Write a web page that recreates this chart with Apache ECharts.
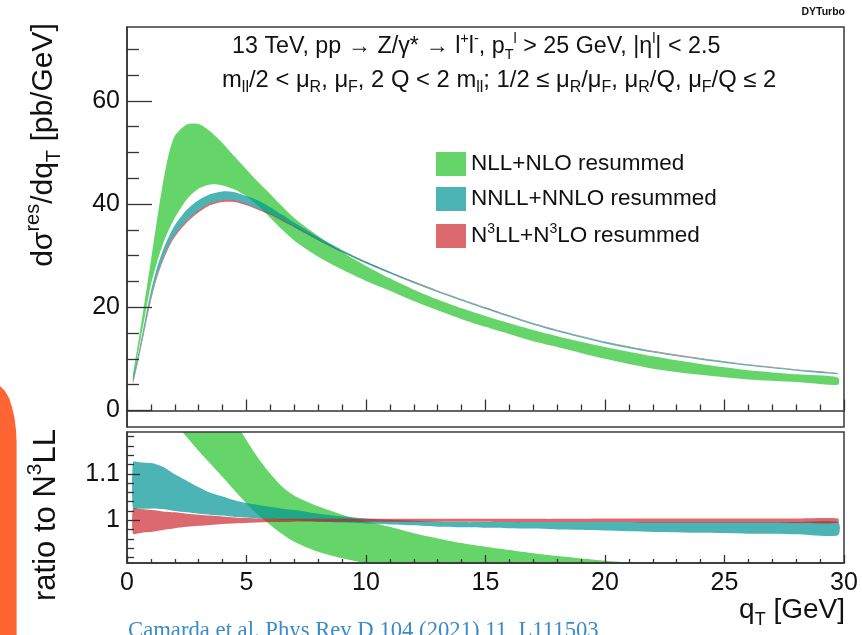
<!DOCTYPE html>
<html><head><meta charset="utf-8">
<script src="https://cdn.jsdelivr.net/npm/echarts@6/dist/echarts.min.js"></script>
<style>html,body{margin:0;padding:0;background:#fff}#c{width:862px;height:635px}</style>
</head><body><div id="c"></div>
<script>
// ---- data ----
const qT = [0.25,0.5,0.75,1,1.25,1.5,1.75,2,2.5,3,3.5,4,4.5,5,5.5,6,6.5,7,8,9,10,11,12,13,14,15,16,17,18,20,22,24,26,28,29.75];

// upper panel: d sigma / dqT [pb/GeV]
const nllLo  = [5.9,12.1,18.3,24.3,28.6,32.2,35.0,37.3,40.9,43.0,43.8,43.6,42.8,41.5,39.6,37.3,35.0,32.9,29.8,27.3,25.1,23.2,21.2,19.4,17.7,16.2,14.8,13.4,12.3,10.0,8.1,6.9,6.0,5.5,5.0];
const nllHi  = [7.0,14.0,21.5,29.0,36.8,44.0,49.7,53.2,55.4,55.5,54.0,51.8,49.2,46.7,44.2,41.9,39.5,37.3,33.8,30.7,28.0,25.6,23.4,21.5,19.8,18.3,16.9,15.6,14.4,12.3,10.5,9.0,7.8,7.0,6.4];
const nnllLo = [5.45,10.65,16.25,21.65,26.05,29.35,32.05,34.05,36.8,38.8,40.15,40.75,40.75,40.05,39.1,38.1,36.9,35.6,33.0,30.65,28.5,26.55,24.65,22.9,21.25,19.65,18.1,16.6,15.3,13.0,11.22,9.84,8.65,7.71,7.02];
const nnllHi = [6.3,11.6,17.5,23.1,27.6,31.0,33.7,35.9,38.9,40.8,41.95,42.45,42.3,41.55,40.65,39.4,37.9,36.4,33.6,31.1,28.85,26.85,24.95,23.15,21.5,19.9,18.35,16.85,15.55,13.25,11.45,10.05,8.85,7.9,7.2];
const n3llLo = [5.1,10.2,15.8,21.2,25.6,28.9,31.6,33.6,36.4,38.4,39.8,40.4,40.4,39.75,38.85,37.9,36.7,35.5,33.0,30.7,28.6,26.72,24.87,23.13,21.48,19.88,18.34,16.84,15.54,13.25,11.45,10.05,8.85,7.91,7.21];
const n3llHi = [5.5,10.7,16.3,21.7,26.1,29.4,32.1,34.1,36.85,38.85,40.2,40.8,40.8,40.1,39.15,38.15,36.95,35.72,33.2,30.9,28.8,26.88,25.03,23.27,21.62,20.02,18.46,16.96,15.66,13.36,11.56,10.15,8.94,7.99,7.28];

// lower panel: ratio to N3LL
const nllRLo  = [1.30,1.28,1.27,1.26,1.25,1.24,1.225,1.21,1.179,1.149,1.121,1.093,1.064,1.036,1.011,0.990,0.970,0.954,0.932,0.918,0.907,0.897,0.888,0.880,0.872,0.864,0.857,0.850,0.843,0.830,0.820,0.810,0.800,0.790,0.785];
const nllRHi  = [1.35,1.36,1.37,1.38,1.42,1.51,1.56,1.57,1.51,1.44,1.35,1.28,1.215,1.172,1.133,1.100,1.072,1.053,1.030,1.012,0.998,0.986,0.972,0.961,0.951,0.943,0.936,0.929,0.923,0.913,0.905,0.895,0.887,0.880,0.875];
const nnllRLo = [1.025,1.025,1.025,1.025,1.025,1.024,1.022,1.020,1.017,1.014,1.012,1.010,1.007,1.006,1.004,1.003,1.001,1.000,0.997,0.995,0.993,0.991,0.989,0.986,0.985,0.984,0.983,0.982,0.980,0.978,0.975,0.973,0.971,0.970,0.968];
const nnllRHi = [1.125,1.125,1.124,1.123,1.120,1.115,1.107,1.099,1.085,1.071,1.059,1.051,1.043,1.037,1.033,1.029,1.025,1.022,1.014,1.008,1.004,1.001,0.999,0.997,0.996,0.996,0.996,0.996,0.996,0.996,0.996,0.996,0.996,0.996,0.996];
const n3llRLo = [0.971,0.972,0.974,0.975,0.977,0.979,0.981,0.983,0.986,0.988,0.990,0.992,0.993,0.994,0.995,0.996,0.996,0.997,0.997,0.997,0.997,0.997,0.997,0.997,0.997,0.997,0.996,0.996,0.996,0.996,0.995,0.995,0.995,0.994,0.994];
const n3llRHi = [1.025,1.024,1.023,1.022,1.021,1.019,1.018,1.017,1.014,1.012,1.010,1.008,1.006,1.005,1.004,1.004,1.003,1.003,1.003,1.003,1.003,1.003,1.003,1.003,1.003,1.003,1.003,1.003,1.003,1.004,1.004,1.004,1.004,1.004,1.004];

// tick labels / tick positions
const xTicks = [0,5,10,15,20,25,30];
const yMajor = [0,20,40,60];
const yMinor = [5,10,15,25,30,35,45,50,55,65,70];
const rMajor = [1,1.1];
const rMinor = [0.92,0.94,0.96,0.98,1.02,1.04,1.06,1.08,1.12,1.14,1.16,1.18];

const names = ['NLL+NLO resummed','NNLL+NNLO resummed','N3LL+N3LO resummed'];
const colors = ['rgba(0,185,5,0.6)','rgba(0,148,148,0.7)','rgba(201,24,32,0.65)'];

// ---- chart ----
const FONT = 'Liberation Sans, Arial, Helvetica, sans-serif';
const chart = echarts.init(document.getElementById('c'));

// uncertainty band: one filled polygon (upper edge forward, lower edge back) in data coordinates
function band(name, lo, hi, color, idx, z) {
  return {
    type:'custom', name, xAxisIndex:idx, yAxisIndex:idx*2, z, silent:true,
    data: qT.map((q,i)=>[q, lo[i], hi[i]]),
    encode:{x:0, y:[1,2]},
    itemStyle:{color},
    renderItem:(params, api)=>{
      if (params.dataIndex !== 0) return null;
      const n = qT.length, up = [], dn = [];
      for (let i=0;i<n;i++) up.push(api.coord([qT[i], hi[i]]));
      for (let i=n-1;i>=0;i--) dn.push(api.coord([qT[i], lo[i]]));
      const cs = params.coordSys;
      return {
        type:'group',
        clipPath:{type:'rect', shape:{x:cs.x, y:cs.y, width:cs.width, height:cs.height}},
        children:[{type:'polygon', shape:{points:up.concat(dn), smooth:0.25}, style:{fill:color, stroke:null}}]
      };
    }
  };
}

const series = [
  band(names[0], nllLo, nllHi, colors[0], 0, 2),
  band(names[2], n3llLo, n3llHi, colors[2], 0, 3),
  band(names[1], nnllLo, nnllHi, colors[1], 0, 4),
  band(names[0], nllRLo, nllRHi, colors[0], 1, 2),
  band(names[1], nnllRLo, nnllRHi, colors[1], 1, 3),
  band(names[2], n3llRLo, n3llRHi, colors[2], 1, 4)
];

const axisCol = '#333';
function xAx(grid, showLabel, tl, ml) {
  return {gridIndex:grid, type:'value', min:0, max:30, interval:5, z:10,
    axisLine:{show:true, lineStyle:{color:axisCol, width:1.5}},
    axisTick:{show:true, inside:true, length:tl, lineStyle:{color:axisCol, width:1.3}},
    minorTick:{show:true, splitNumber:5, length:ml, lineStyle:{color:axisCol, width:1.3}},
    axisLabel:{show:showLabel, fontSize:25, margin:8, color:'#111', fontFamily:FONT},
    splitLine:{show:false}, minorSplitLine:{show:false}};
}
function yAx(grid, min, max, ticks, len, labels) {
  return {gridIndex:grid, type:'value', min, max, position:'left', z:10,
    axisLine:{show:!!labels, lineStyle:{color:axisCol, width:1.5}},
    axisTick:{show:true, inside:true, length:len, customValues:ticks, lineStyle:{color:axisCol, width:1.3}},
    axisLabel:labels ? {show:true, customValues:labels, fontSize:25, margin:7, color:'#111', fontFamily:FONT} : {show:false},
    splitLine:{show:false}};
}

const sup = (fs)=>({fontSize:fs, fontFamily:FONT, lineHeight:fs, verticalAlign:'top', fill:'#111'});
const sub = (fs)=>({fontSize:fs, fontFamily:FONT, lineHeight:fs, verticalAlign:'bottom', fill:'#111'});
const main = (fs, lh)=>({fontSize:fs, fontFamily:FONT, lineHeight:lh, fill:'#111'});

const option = {
  animation:false,
  backgroundColor:'#fff',
  grid:[
    {left:127, top:27, right:18, height:400, show:true, borderColor:'#3a3a3a', borderWidth:1.5, z:10},
    {left:127, top:432, right:18, height:131, show:true, borderColor:'#3a3a3a', borderWidth:1.5, z:10}
  ],
  xAxis:[ xAx(0,false,11,6), xAx(1,true,8,4) ],
  yAxis:[
    yAx(0,-3.2,74.3,yMajor,25,yMajor),
    yAx(0,-3.2,74.3,yMinor,12,null),
    yAx(1,0.908,1.19,rMajor,13,rMajor),
    yAx(1,0.908,1.19,rMinor,7,null)
  ],
  legend:{
    data:names, orient:'vertical', left:436, top:152, itemWidth:30, itemHeight:24, itemGap:11,
    icon:'rect', padding:0, selectedMode:false,
    itemStyle:{borderWidth:0},
    formatter:(n)=> n.indexOf('N3')===0 ? '{n|N}{s|3}{n|LL+N}{s|3}{n|LO resummed}' : '{n|'+n+'}',
    textStyle:{color:'#111', fontFamily:FONT, fontSize:22.5,
      rich:{ n:{fontSize:22.5, fontFamily:FONT, color:'#111', lineHeight:28},
             s:{fontSize:14, fontFamily:FONT, color:'#111', lineHeight:14, verticalAlign:'top'} } }
  },
  graphic:[
    {type:'polygon', shape:{points:[[0,386],[5,391],[9,398],[12,407],[14.5,418],[16,430],[16.6,442],[16.6,635],[0,635]]}, style:{fill:'#ff6533'}},
    {type:'text', x:845, y:12, style:{text:'DYTurbo', fontSize:10.5, fontWeight:'bold', fontFamily:FONT, fill:'#111', align:'right', verticalAlign:'middle'}},
    {type:'text', x:232, y:47, style:{
      text:'{a|13 TeV, pp → Z/γ* → l}{sp|+}{a|l}{sp|-}{a|, p}{sb|T}{sp|l}{a| > 25 GeV, |η}{sp|l}{a|| < 2.5}',
      align:'left', verticalAlign:'middle',
      rich:{a:main(23.3,31), sp:sup(14.5), sb:sub(14.5)}}},
    {type:'text', x:222, y:80, style:{
      text:'{a|m}{sb|ll}{a|/2 < μ}{sb|R}{a|, μ}{sb|F}{a|, 2 Q < 2 m}{sb|ll}{a|; 1/2 ≤ μ}{sb|R}{a|/μ}{sb|F}{a|, μ}{sb|R}{a|/Q, μ}{sb|F}{a|/Q ≤ 2}',
      align:'left', verticalAlign:'middle',
      rich:{a:main(23.8,31), sp:sup(16), sb:sub(16)}}},
    {type:'text', x:44, y:145, rotation:Math.PI/2, style:{
      text:'{a|dσ}{sp|res}{a|/dq}{sb|T}{a| [pb/GeV]}', align:'center', verticalAlign:'middle',
      rich:{a:main(30,41), sp:sup(20), sb:sub(20)}}},
    {type:'text', x:46, y:515, rotation:Math.PI/2, style:{
      text:'{a|ratio to N}{sp|3}{a|LL}', align:'center', verticalAlign:'middle',
      rich:{a:main(31,42), sp:sup(21)}}},
    {type:'text', x:845, y:610, style:{
      text:'{a|q}{sb|T}{a| [GeV]}', align:'right', verticalAlign:'middle',
      rich:{a:main(28,38), sb:sub(18)}}},
    {type:'text', x:128, y:620, style:{
      text:'Camarda et al. Phys Rev D 104 (2021) 11, L111503', fontSize:22.7,
      fontFamily:'Liberation Serif, Times New Roman, serif', fill:'#3b8bc8', align:'left', verticalAlign:'top'}}
  ],
  series
};
chart.setOption(option);
</script></body></html>
